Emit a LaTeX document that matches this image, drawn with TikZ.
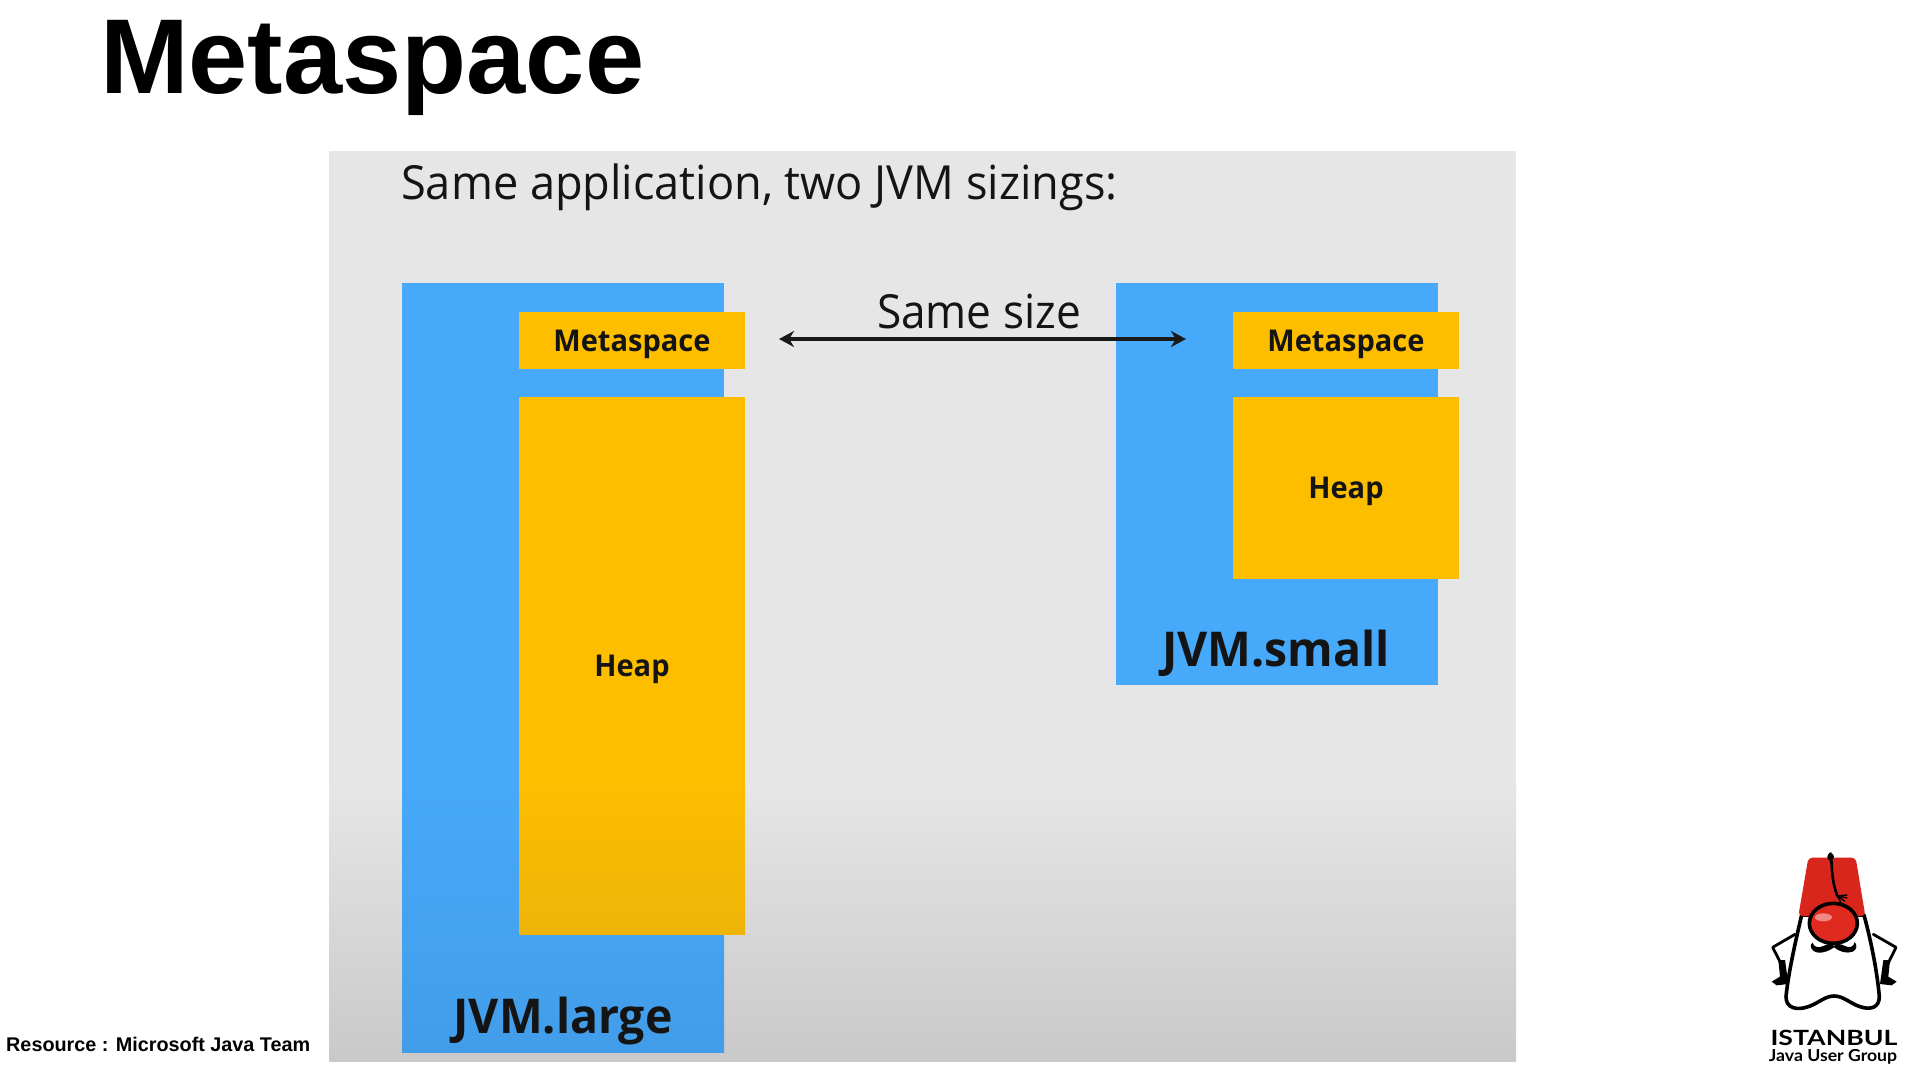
\documentclass[tikz,border=0pt]{standalone}
\usepackage{fontspec}
\setmainfont{Liberation Sans}
\newfontfamily\segoe{Open Sans}
\newfontfamily\gill{Lato}
\usetikzlibrary{arrows.meta}
\definecolor{panelgray}{HTML}{E6E6E6}
\definecolor{panelgraylow}{HTML}{C9C9C9}
\definecolor{jvmblue}{HTML}{47A9FA}
\definecolor{heapgold}{HTML}{FDBE00}
\definecolor{heapgoldlow}{HTML}{EEB407}
\definecolor{bodytext}{HTML}{141414}
\definecolor{fezred}{HTML}{D8261C}
\definecolor{noseRed}{HTML}{E02A20}
\newcommand{\goldtext}[1]{\raisebox{-10.5pt}[0pt][0pt]{\addfontfeature{FakeStretch=0.968}#1}}
\tikzset{
  x=1pt,y=-1pt,
  box/.style={anchor=north west,inner sep=0pt,outer sep=0pt,draw=none,text=bodytext},
  jvmbox/.style={box,fill=jvmblue},
  goldbox/.style={box,fill=heapgold,font=\segoe\bfseries\fontsize{30}{32}\selectfont},
  jvmlabel/.style={text=bodytext,inner sep=0pt,font=\segoe\bfseries\fontsize{48}{50}\selectfont},
  logoink/.style={draw=black,line width=2.8pt,line join=round,line cap=round},
}
\begin{document}
\begin{tikzpicture}
\useasboundingbox (0,0) rectangle (1920,1080);
\fill[white] (0,0) rectangle (1920,1080);
% title
\node[anchor=base west,inner sep=0pt,font=\bfseries\fontsize{106.4}{110}\selectfont] (title) at (100,93) {Metaspace};
\node[anchor=base west,inner sep=0pt,font=\bfseries\fontsize{19.8}{24}\selectfont] (resource) at (6,1051) {Resource : Microsoft Java Team};
% panel
\fill[panelgray] (329,151) rectangle (1516,784);
\shade[top color=panelgray,bottom color=panelgraylow] (329,784) rectangle (1516,1061);
\node[anchor=base west,inner sep=0pt,text=bodytext,font=\segoe\fontsize{47}{50}\selectfont] (heading) at (401,199) {\addfontfeature{FakeStretch=0.96}Same application, two JVM sizings:};
% large JVM
\node[jvmbox,minimum width=322pt,minimum height=769pt] (large) at (402,283) {};
\shade[top color=jvmblue,bottom color=jvmblue!93!black] (402,784) rectangle (724,1052);
\node[goldbox,minimum width=226pt,minimum height=57pt] (metaL) at (519,312) {\goldtext{Metaspace}};
\node[goldbox,minimum width=226pt,minimum height=537pt] (heapL) at (519,397) {};
\shade[top color=heapgold,bottom color=heapgoldlow] (519,784) rectangle (745,934);
\node[text=bodytext,inner sep=0pt,font=\segoe\bfseries\fontsize{30}{32}\selectfont] (heapLtext) at (632,669) {\addfontfeature{FakeStretch=0.968}Heap};
\node[jvmlabel] (largetext) at (563,1021) {\addfontfeature{FakeStretch=0.967}JVM.large};
% small JVM
\node[jvmbox,minimum width=322pt,minimum height=402pt] (small) at (1116,283) {};
\node[goldbox,minimum width=226pt,minimum height=57pt] (metaS) at (1233,312) {\goldtext{Metaspace}};
\node[goldbox,minimum width=226pt,minimum height=182pt] (heapS) at (1233,397) {\goldtext{Heap}};
\node[jvmlabel] (smalltext) at (1276,653) {\addfontfeature{FakeStretch=0.967}JVM.small};
% same size
\node[text=bodytext,inner sep=0pt,font=\segoe\fontsize{47}{50}\selectfont] (samesize) at (979,311) {\addfontfeature{FakeStretch=0.94}Same size};
\coordinate (arrL) at (779,339);
\coordinate (arrR) at (1186,339);
\draw[{Stealth[length=15pt,width=16pt]}-{Stealth[length=15pt,width=16pt]},line width=3.4pt,draw=black!90] (arrL) -- (arrR);
% logo (coordinates of a 3x crop at 1760,840)
\begin{scope}[shift={(1760,840)},x=0.3333pt,y=-0.3333pt]
  % arms
  \draw[logoink] (105,283) -- (38,322) -- (65,375);
  \draw[logoink] (340,283) -- (408,322) -- (382,375);
  % hands
  \fill[black] (55,360) -- (75,360) -- (85,432) -- (50,436) -- (35,425) -- (60,410) -- cycle;
  \fill[black] (390,360) -- (370,360) -- (360,432) -- (395,436) -- (410,425) -- (385,410) -- cycle;
  % body
  \draw[logoink,line width=3.6pt,fill=white] (125,225) .. controls (105,310) and (85,400) .. (78,470)
     .. controls (78,505) and (110,512) .. (145,500)
     .. controls (175,490) and (195,468) .. (222,468)
     .. controls (250,468) and (270,490) .. (300,500)
     .. controls (335,512) and (358,500) .. (358,470)
     .. controls (352,400) and (335,310) .. (312,225) -- cycle;
  % fez
  \fill[fezred,rounded corners=4pt] (145,53) -- (287,53) -- (316,228) -- (115,228) -- cycle;
  % nose
  \fill[noseRed,draw=black,line width=3.6pt] (220,250) ellipse [x radius=72,y radius=60];
  \fill[white,opacity=.45] (190,232) ellipse [x radius=26,y radius=12];
  % moustache
  \fill[black] (222,322) .. controls (205,335) and (175,345) .. (160,332)
     .. controls (150,325) and (150,312) .. (158,308)
     .. controls (160,320) and (175,326) .. (190,318)
     .. controls (205,310) and (218,310) .. (222,318)
     .. controls (226,310) and (240,310) .. (255,318)
     .. controls (268,326) and (282,320) .. (284,306)
     .. controls (293,315) and (290,330) .. (278,335)
     .. controls (260,342) and (238,335) .. (222,322) -- cycle;
  % tassel
  \draw[black,line width=2.6pt,line cap=round] (212,40) .. controls (205,48) and (205,58) .. (214,60)
     .. controls (216,90) and (216,125) .. (232,168);
  \fill[black] (212,50) circle [radius=10];
  \draw[black,line width=1.3pt] (232,168) -- (262,165) (232,168) -- (262,174) (232,168) -- (255,184) (232,168) -- (243,188);
\end{scope}
\node[anchor=base,inner sep=0pt,text=black,font=\gill\bfseries\fontsize{21}{24}\selectfont] (jugname) at (1834,1045) {\addfontfeature{FakeStretch=1.27}ISTANBUL};
\node[anchor=base,inner sep=0pt,text=black,font=\gill\bfseries\fontsize{16.5}{20}\selectfont] (jugsub) at (1833,1061) {\addfontfeature{FakeStretch=1.07}Java User Group};
\end{tikzpicture}
\end{document}
